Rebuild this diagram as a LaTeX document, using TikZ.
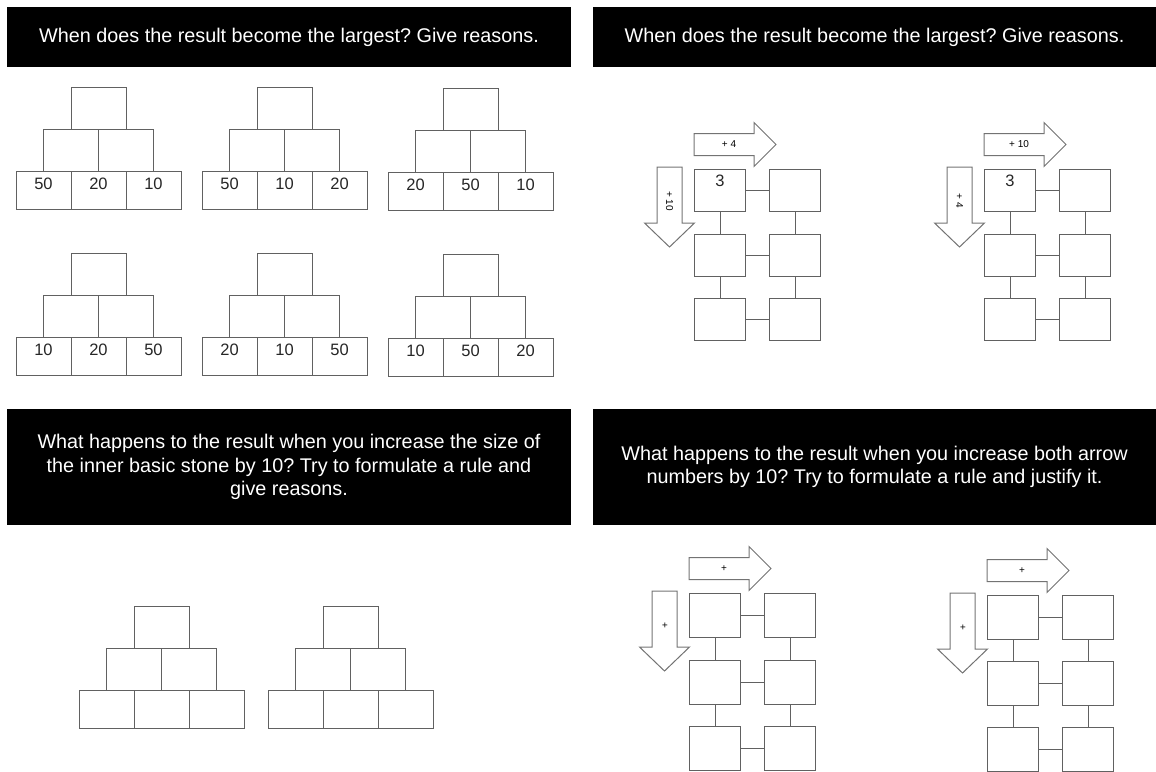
\documentclass[tikz,border=0pt]{standalone}
\usepackage{fontspec}
\setmainfont{Liberation Sans}
\frenchspacing
\usetikzlibrary{positioning}
\tikzset{every picture/.style={line width=0.9pt}}
\tikzset{
  banner/.style={fill=black, text=white, align=center, inner sep=0pt,
    font=\fontsize{19.8}{23.6}\selectfont},
  brick/.style={draw=black!62, line width=1pt, minimum width=55pt,
    minimum height=#1, inner sep=0pt, outer sep=0pt},
  num/.style={text depth=13pt, text=black!85, font=\fontsize{16.5}{19}\selectfont},
  field/.style={draw=black!62, line width=1.1pt, minimum width=51pt,
    minimum height=#1, inner sep=0pt, text depth=20pt, text=black!85,
    font=\fontsize{16.5}{19}\selectfont},
  link/.style={draw=black!62, line width=1.1pt},
  blockarrow/.style={draw=black!55, line width=1pt, line join=miter},
  tag/.style={font=\fontsize{10}{12}\selectfont, inner sep=0pt}
}

\begin{document}
\begin{tikzpicture}[x=1pt, y=-1pt]
    \useasboundingbox (0,0) rectangle (1156,771);
    % Aufgaben
    \node[banner, minimum width=564pt, minimum height=60pt] (ask1) at (289,37)
        {When does the result become the largest? Give reasons.};
    \node[banner, minimum width=563pt, minimum height=60pt] (ask2) at (874.5,37)
        {When does the result become the largest? Give reasons.};
    \node[banner, minimum width=564pt, minimum height=116pt] (ask3) at (289,467)
        {What happens to the result when you increase the size of\\
         the inner basic stone by 10? Try to formulate a rule and\\give reasons.};
    \node[banner, minimum width=563pt, minimum height=116pt] (ask4) at (874.5,467)
        {What happens to the result when you increase both arrow\\
         numbers by 10? Try to formulate a rule and justify it.};
    % Zahlenmauern
    \foreach \px/\py/\a/\b/\c [count=\i] in {16/87/50/20/10, 202/87/50/10/20,
        388/88/20/50/10, 16/253/10/20/50, 202/253/20/10/50, 388/254/10/50/20,
        79/606//, 268/606//} {
        \node[brick=42pt, anchor=north west] (p\i-t) at (\px+55,\py) {};
        \node[brick=42pt, anchor=north] (p\i-l) at (p\i-t.south west) {};
        \node[brick=42pt, anchor=north] (p\i-r) at (p\i-t.south east) {};
        \node[brick=38pt, num, anchor=north] (p\i-1) at (p\i-l.south west) {\a};
        \node[brick=38pt, num, anchor=north] (p\i-2) at (p\i-l.south east) {\b};
        \node[brick=38pt, num, anchor=north] (p\i-3) at (p\i-r.south east) {\c};
    }
    % Rechenraster mit Pfeilen
    \foreach \ox/\oy/\h/\dy/\lh/\lv/\s [count=\q] in {694/169/42/64.5/{+ 4}/{+ 10}/3,
        984/169/42/64.5/{+ 10}/{+ 4}/3, 689/593/44/66.5/+/+/, 987/595/44/66/+/+/} {
        \foreach \r in {0,1,2} {
            \node[field=\h pt, anchor=north west] (g\q-\r-a) at (\ox,\oy+\r*\dy)
                {\ifnum\r=0 \s\fi};
            \node[field=\h pt, anchor=north west] (g\q-\r-b) at (\ox+75,\oy+\r*\dy) {};
            \draw[link] (g\q-\r-a) -- (g\q-\r-b);
        }
        \foreach \r/\n in {0/1,1/2} {
            \draw[link] (g\q-\r-a) -- (g\q-\n-a);
            \draw[link] (g\q-\r-b) -- (g\q-\n-b);
        }
        \draw[blockarrow] (\ox,\oy-35.5) -- ++(60,0) -- ++(0,-11) -- ++(22,22)
            -- ++(-22,22) -- ++(0,-11) -- ++(-60,0) -- cycle;
        \draw[blockarrow] (\ox-37,\oy-2) -- ++(25,0) -- ++(0,56) -- ++(12.5,0)
            -- ++(-25,24) -- ++(-25,-24) -- ++(12.5,0) -- cycle;
        \node[tag] (h\q) at (\ox+35,\oy-24.5) {\lh};
        \node[tag, rotate=-90] (v\q) at (\ox-24.5,\oy+32) {\lv};
    }
\end{tikzpicture}
\end{document}
